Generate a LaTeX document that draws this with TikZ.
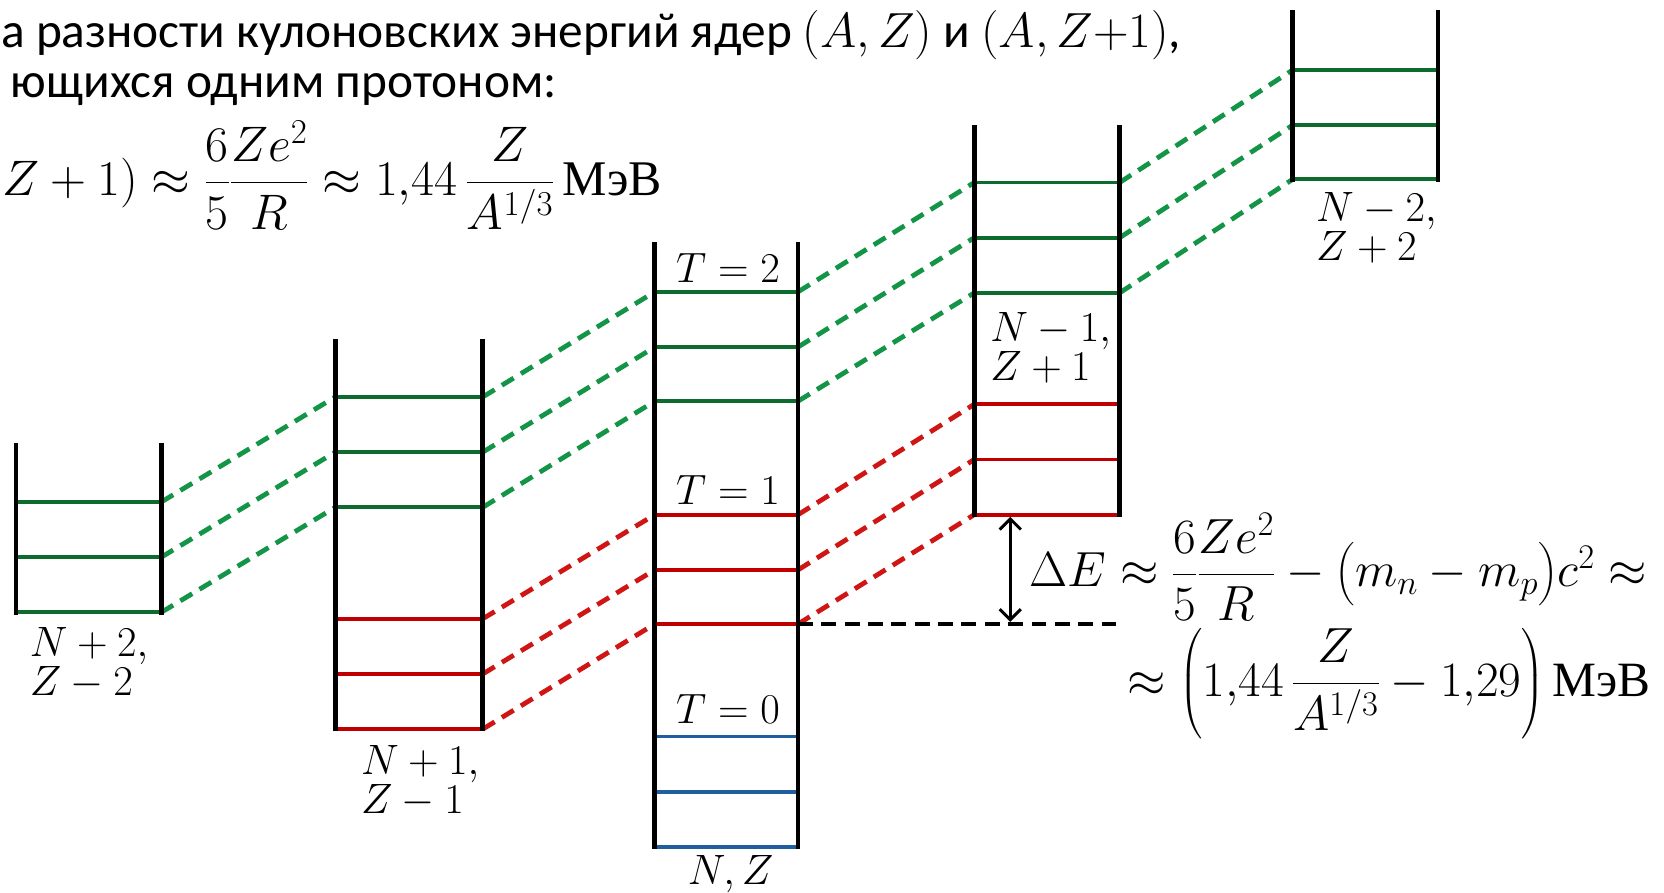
\RequirePackage{fix-cm}
\documentclass[tikz,border=0pt]{standalone}
\usepackage{amsmath}
\usepackage[no-math]{fontspec}
\setmainfont{Carlito}
\newfontfamily\russerif{Liberation Serif}
\usetikzlibrary{arrows.meta}
\definecolor{lvgreen}{HTML}{0E6B2E}
\definecolor{dgreen}{HTML}{139447}
\definecolor{lvred}{HTML}{C00000}
\definecolor{dred}{HTML}{D01515}
\definecolor{lvblue}{HTML}{1F5FA0}
\begin{document}
\begin{tikzpicture}[x=1pt,y=-1pt,
  wall/.style={line width=4.5pt, black, line cap=rect},
  lvl/.style={line width=3.5pt},
  link/.style={line width=4.5pt, dash pattern=on 13pt off 8pt},
  lbl/.style={font=\fontsize{40}{37}\selectfont, align=left, inner sep=0},
  tlbl/.style={font=\fontsize{40}{42}\selectfont, inner sep=0},
  txt/.style={font=\fontsize{46.5}{47}\selectfont, inner sep=0, anchor=base west},
  eq/.style={font=\fontsize{46.5}{50}\selectfont, inner sep=0, anchor=base west}]
\useasboundingbox (0,0) rectangle (1568,841);
\clip (0,0) rectangle (1568,841);
% ---- box 1 (N+2, Z-2)
\coordinate (b1t) at (15,420); \coordinate (b1u) at (152,420);
\foreach \n/\y in {g1/473,g2/525,g3/577}{
  \coordinate (b1l\n) at (15,\y); \coordinate (b1r\n) at (152,\y);}
% ---- box 2 (N+1, Z-1)
\coordinate (b2t) at (316,322); \coordinate (b2u) at (455,322);
\foreach \n/\y in {g1/374,g2/426,g3/478,r1/583,r2/635,r3/687}{
  \coordinate (b2l\n) at (316,\y); \coordinate (b2r\n) at (455,\y);}
% ---- box 3 (N, Z)
\coordinate (b3t) at (617,230); \coordinate (b3u) at (752,230);
\foreach \n/\y in {g1/275,g2/327,g3/378,r1/485,r2/537,r3/588,c1/694,c2/746,c3/798}{
  \coordinate (b3l\n) at (617,\y); \coordinate (b3r\n) at (752,\y);}
% ---- box 4 (N-1, Z+1)
\coordinate (b4t) at (918,120); \coordinate (b4u) at (1055,120);
\foreach \n/\y in {g1/172,g2/224,g3/276,r1/381,r2/433,r3/485}{
  \coordinate (b4l\n) at (918,\y); \coordinate (b4r\n) at (1055,\y);}
% ---- box 5 (N-2, Z+2)
\coordinate (b5t) at (1218,12); \coordinate (b5u) at (1355,12);
\foreach \n/\y in {g1/66,g2/118,g3/169}{
  \coordinate (b5l\n) at (1218,\y); \coordinate (b5r\n) at (1355,\y);}

% dashed connectors
\foreach \n in {g1,g2,g3}{
  \draw[link,dgreen] (b1r\n) -- (b2l\n);
  \draw[link,dgreen] (b2r\n) -- (b3l\n);
  \draw[link,dgreen] (b3r\n) -- (b4l\n);
  \draw[link,dgreen] (b4r\n) -- (b5l\n);}
\foreach \n in {r1,r2,r3}{
  \draw[link,dred] (b2r\n) -- (b3l\n);
  \draw[link,dred] (b3r\n) -- (b4l\n);}

% levels
\foreach \b in {1,2,3,4,5}{
  \foreach \n in {g1,g2,g3}{\draw[lvl,lvgreen] (b\b l\n) -- (b\b r\n);}}
\foreach \b in {2,3,4}{
  \foreach \n in {r1,r2,r3}{\draw[lvl,lvred] (b\b l\n) -- (b\b r\n);}}
\foreach \n in {c1,c2,c3}{\draw[lvl,lvblue] (b3l\n) -- (b3r\n);}

% walls
\draw[wall] (b1t) -- (b1lg3); \draw[wall] (b1u) -- (b1rg3);
\draw[wall] (b2t) -- (b2lr3); \draw[wall] (b2u) -- (b2rr3);
\draw[wall] (b3t) -- (b3lc3); \draw[wall] (b3u) -- (b3rc3);
\draw[wall] (b4t) -- (b4lr3); \draw[wall] (b4u) -- (b4rr3);
\draw[wall] (b5t) -- (b5lg3); \draw[wall] (b5u) -- (b5rg3);

% energy gap
\coordinate (dend) at (1058,588);
\draw[line width=4pt, dash pattern=on 14pt off 8pt] (b3rr3) -- (dend);
\coordinate (aTop) at (952,487); \coordinate (aBot) at (952,586);
\draw[line width=2.8pt, {Straight Barb[length=10pt,width=20pt]}-{Straight Barb[length=10pt,width=20pt]}] (aTop) -- (aBot);

% labels
\node[lbl, anchor=north west] (L1) at (28,591) {$N+2,$\\$Z-2$};
\node[lbl, anchor=north west] (L2) at (340,702) {$N+1,$\\$Z-1$};
\node[lbl, anchor=north west] (L3) at (648,806) {$N,Z$};
\node[lbl, anchor=north west] (L4) at (933,294) {$N-1,$\\$Z+1$};
\node[lbl, anchor=north west] (L5) at (1240,181) {$N-2,$\\$Z+2$};
\node[tlbl] (T2) at (686,253) {$T=2$};
\node[tlbl] (T1) at (686,462) {$T=1$};
\node[tlbl] (T0) at (686,668) {$T=0$};

% texts
\node[txt] (t1) at (1,45) {а разности кулоновских энергий ядер $(A,Z)$ и $(A,Z{+}1)$,};
\node[txt] (t2) at (10,92) {ющихся одним протоном:};
\node[eq, font=\fontsize{47}{50}\selectfont] (f1) at (2,184) {$Z+1)\approx\dfrac{6}{5}\dfrac{Ze^2}{R}\approx 1{,}44\,\dfrac{Z}{A^{1/3}}\,\mbox{\russerif МэВ}$};
\node[eq] (f2) at (970,553) {$\Delta E\approx\dfrac{6}{5}\dfrac{Ze^2}{R}-\bigl(m_n-m_p\bigr)c^2\approx$};
\node[eq] (f3) at (1062,656) {$\approx\left(1{,}44\,\dfrac{Z}{A^{1/3}}-1{,}29\right)\mbox{\russerif МэВ}$};
\end{tikzpicture}
\end{document}
